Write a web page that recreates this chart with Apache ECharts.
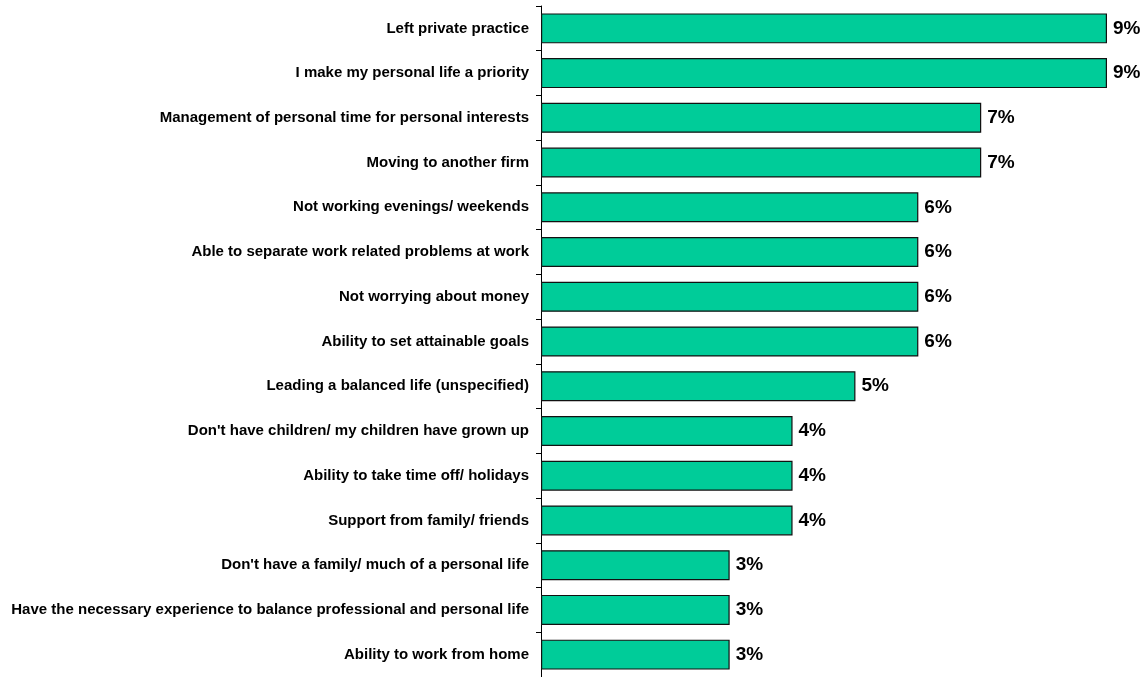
<!DOCTYPE html>
<html><head><meta charset="utf-8">
<script src="https://cdn.jsdelivr.net/npm/echarts@6/dist/echarts.min.js"></script>
<style>html,body{margin:0;padding:0;background:#fff}#c{width:1147px;height:677px}</style>
</head><body><div id="c"></div>
<script>
const categories = [
  "Left private practice",
  "I make my personal life a priority",
  "Management of personal time for personal interests",
  "Moving to another firm",
  "Not working evenings/ weekends",
  "Able to separate work related problems at work",
  "Not worrying about money",
  "Ability to set attainable goals",
  "Leading a balanced life (unspecified)",
  "Don't have children/ my children have grown up",
  "Ability to take time off/ holidays",
  "Support from family/ friends",
  "Don't have a family/ much of a personal life",
  "Have the necessary experience to balance professional and personal life",
  "Ability to work from home"
];
const values = [9, 9, 7, 7, 6, 6, 6, 6, 5, 4, 4, 4, 3, 3, 3];

const chart = echarts.init(document.getElementById('c'));
chart.setOption({
  animation: false,
  grid: { left: 541, right: 40, top: 6, bottom: -4, containLabel: false },
  xAxis: { type: 'value', min: 0, max: 9, show: false },
  yAxis: {
    type: 'category', inverse: true, data: categories,
    axisLine: { show: true, lineStyle: { color: '#000', width: 1 } },
    axisTick: { show: true, length: 5, lineStyle: { color: '#000' } },
    axisLabel: { color: '#000', fontFamily: 'Liberation Sans, Arial, sans-serif', fontWeight: 'bold', fontSize: 15, margin: 12 },
    splitLine: { show: false }
  },
  series: [{
    type: 'bar', data: values, barCategoryGap: '33%',
    itemStyle: { color: '#00CC99', borderColor: '#111', borderWidth: 1.2 },
    label: { show: true, position: 'right', distance: 6, formatter: p => p.value + '%', color: '#000', fontFamily: 'Liberation Sans, Arial, sans-serif', fontWeight: 'bold', fontSize: 19 }
  }]
});
</script></body></html>
